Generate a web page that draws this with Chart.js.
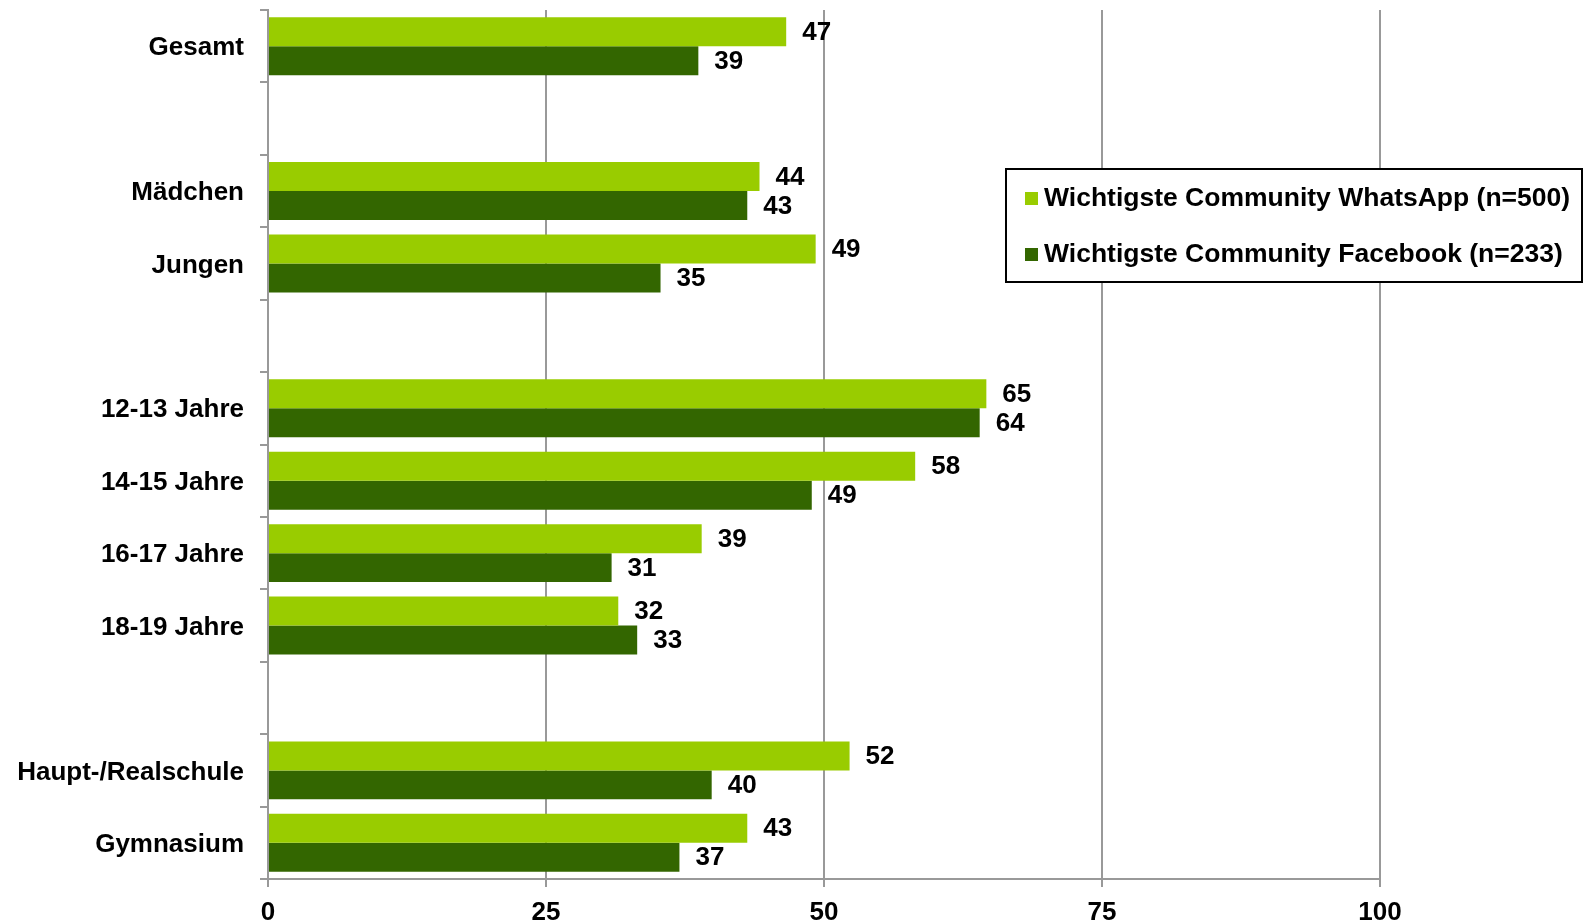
<!DOCTYPE html>
<html>
<head>
<meta charset="utf-8">
<script src="https://cdn.jsdelivr.net/npm/chart.js@4.4.0/dist/chart.umd.min.js"></script>
<style>
  html, body { margin: 0; padding: 0; background: #fff; }
  #wrap { width: 1588px; height: 922px; position: relative; }
</style>
</head>
<body>
<div id="wrap"><canvas id="chart" width="1588" height="922"></canvas></div>
<script>
// Empty strings are the spacer rows between groups
const categories = ['Gesamt', '', 'Mädchen', 'Jungen', '', '12-13 Jahre', '14-15 Jahre', '16-17 Jahre', '18-19 Jahre', '', 'Haupt-/Realschule', 'Gymnasium'];
// bar lengths as measured (labels show the rounded value)
const whatsapp = [46.6, null, 44.2, 49.25, null, 64.6, 58.2, 39.0, 31.5, null, 52.3, 43.1];
const facebook = [38.7, null, 43.1, 35.3, null, 64.0, 48.9, 30.9, 33.2, null, 39.9, 37.0];
const seriesNames = ['Wichtigste Community WhatsApp (n=500)', 'Wichtigste Community Facebook (n=233)'];
const xTicks = [0, 25, 50, 75, 100];

const FONT = '"Liberation Sans", Arial, sans-serif';
const LIGHT = '#99cc00';
const DARK = '#336600';
const GRID = '#999999';

// Value labels at the end of each bar
const valueLabels = {
    id: 'valueLabels',
    afterDatasetsDraw(chart) {
        const ctx = chart.ctx;
        ctx.save();
        ctx.font = 'bold 26px ' + FONT;
        ctx.fillStyle = '#000';
        ctx.textAlign = 'left';
        ctx.textBaseline = 'middle';
        chart.data.datasets.forEach((ds, i) => {
            chart.getDatasetMeta(i).data.forEach((bar, j) => {
                if (ds.data[j] == null) return;
                ctx.fillText(Math.round(ds.data[j]), bar.x + 16, bar.y + 1);
            });
        });
        ctx.restore();
    }
};

// Boxed legend floating over the plot, top right
const boxLegend = {
    id: 'boxLegend',
    afterDraw(chart) {
        const ctx = chart.ctx;
        const box = { x: 1006, y: 169, w: 576, h: 113 };
        ctx.save();
        ctx.fillStyle = '#fff';
        ctx.fillRect(box.x, box.y, box.w, box.h);
        ctx.strokeStyle = '#000';
        ctx.lineWidth = 2;
        ctx.strokeRect(box.x, box.y, box.w, box.h);
        ctx.font = 'bold 26.5px ' + FONT;
        ctx.textAlign = 'left';
        ctx.textBaseline = 'middle';
        const rows = [198, 254];
        chart.data.datasets.forEach((ds, i) => {
            ctx.fillStyle = ds.backgroundColor;
            ctx.fillRect(1025, rows[i] - 6, 13, 13);
            ctx.fillStyle = '#000';
            ctx.fillText(ds.label, 1044, rows[i] + 1);
        });
        ctx.restore();
    }
};

new Chart(document.getElementById('chart').getContext('2d'), {
    type: 'bar',
    data: {
        labels: categories,
        datasets: [
            { label: seriesNames[0], data: whatsapp, backgroundColor: LIGHT },
            { label: seriesNames[1], data: facebook, backgroundColor: DARK }
        ]
    },
    options: {
        indexAxis: 'y',
        responsive: false,
        animation: false,
        layout: { padding: { top: 10, right: 208, left: 0, bottom: 0 } },
        datasets: { bar: { categoryPercentage: 0.8, barPercentage: 1.0 } },
        plugins: {
            legend: { display: false },
            tooltip: { enabled: false }
        },
        scales: {
            x: {
                min: 0,
                max: 100,
                afterBuildTicks: (s) => { s.ticks = xTicks.map(v => ({ value: v })); },
                afterFit: (s) => { s.height = 43; s.paddingLeft = 0; s.paddingRight = 0; },
                grid: { color: GRID, lineWidth: 2, tickLength: 8, drawTicks: true },
                border: { color: GRID, width: 2 },
                ticks: {
                    color: '#000',
                    font: { family: FONT, size: 26, weight: 'bold' },
                    padding: 10
                }
            },
            y: {
                afterFit: (s) => { s.width = 268; s.paddingTop = 0; s.paddingBottom = 0; },
                grid: { drawOnChartArea: false, offset: true, color: GRID, lineWidth: 2, tickLength: 8 },
                border: { color: GRID, width: 2 },
                ticks: {
                    color: '#000',
                    font: { family: FONT, size: 26, weight: 'bold' },
                    padding: 16,
                    labelOffset: 2,
                    autoSkip: false
                }
            }
        }
    },
    plugins: [valueLabels, boxLegend]
});
</script>
</body>
</html>
